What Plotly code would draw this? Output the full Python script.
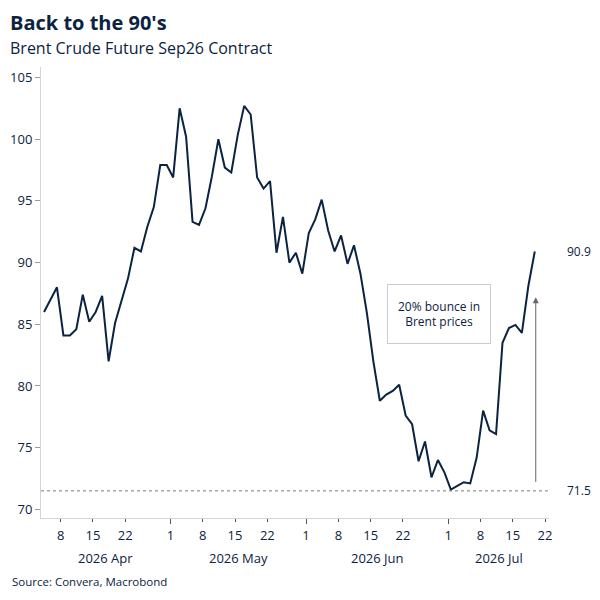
import numpy as np
import pandas as pd
import plotly.graph_objects as go

# business days, Apr 3 -> Jul 20 2026 (weekends dropped, like the source chart)
start_date = "2026-04-03"
end_date = "2026-07-20"
dates = pd.bdate_range(start_date, end_date)

brent = [
    86.0, 87.0, 88.0, 84.1, 84.1, 84.6, 87.4, 85.2, 86.0, 87.3,
    82.0, 85.1, 86.9, 88.7, 91.2, 90.9, 92.9, 94.5, 97.9, 97.9,
    96.9, 102.5, 100.2, 93.3, 93.05, 94.4, 97.0, 100.0, 97.7, 97.3,
    100.35, 102.7, 102.0, 96.9, 96.0, 96.6, 90.8, 93.7, 90.0, 90.8,
    89.1, 92.4, 93.5, 95.1, 92.6, 90.9, 92.2, 89.9, 91.4, 89.1,
    85.9, 82.0, 78.8, 79.3, 79.6, 80.1, 77.6, 76.9, 73.9, 75.5,
    72.6, 74.0, 73.0, 71.6, 71.9, 72.2, 72.1, 74.2, 78.0, 76.4,
    76.1, 83.5, 84.7, 84.95, 84.3, 88.1, 90.9,
]

tick_dates = ["2026-04-08", "2026-04-15", "2026-04-22",
              "2026-05-01", "2026-05-08", "2026-05-15", "2026-05-22",
              "2026-06-01", "2026-06-08", "2026-06-15", "2026-06-22",
              "2026-07-01", "2026-07-08", "2026-07-15", "2026-07-22"]
month_starts = ["2026-05-01", "2026-06-01", "2026-07-01"]
month_labels = ["2026 Apr", "2026 May", "2026 Jun", "2026 Jul"]

low_value = 71.5
last_value = brent[-1]

NAVY = "#0b2340"
FONT = "Open Sans"

s = np.datetime64(start_date)
def bd(d):
    return float(np.busday_count(s, np.datetime64(d)))

x = [bd(d.strftime("%Y-%m-%d")) for d in dates]
TICK_SHIFT = 0.42  # axis ticks sit a little before each day's point
tickvals = [bd(d) - TICK_SHIFT for d in tick_dates]
ticktext = [str(int(d[-2:])) for d in tick_dates]
month_tickvals = [bd(d) - TICK_SHIFT for d in month_starts]

x_range = [-0.47, 78.2]
y_range = [69.3, 105.85]

fig = go.Figure()
fig.add_trace(go.Scatter(x=x, y=brent, mode="lines",
                         line=dict(color=NAVY, width=2), name="Brent",
                         hoverinfo="y"))

# dashed line at the July low
fig.add_shape(type="line", xref="x", yref="y", x0=x_range[0], x1=x_range[1],
              y0=low_value, y1=low_value,
              line=dict(color="#7a7a7a", width=1, dash="3px,3px"))

# month labels centred under each month
edges = [x_range[0]] + month_tickvals + [x_range[1]]
for i, lab in enumerate(month_labels):
    fig.add_annotation(x=(edges[i] + edges[i + 1]) / 2, y=-0.088, xref="x", yref="paper",
                       text=lab, showarrow=False, yanchor="middle",
                       font=dict(size=13, color=NAVY, family=FONT))

# arrow for the bounce
fig.add_annotation(x=76.15, y=87.2, ax=76.15, ay=72.1, xref="x", yref="y",
                   axref="x", ayref="y", text="", showarrow=True,
                   arrowhead=2, arrowsize=1.2, arrowwidth=1, arrowcolor="#666666")

fig.add_annotation(x=61.2, y=85.86, xref="x", yref="y", text="20% bounce in<br>Brent prices",
                   showarrow=False, width=102, height=58, bordercolor="#c5ccd3",
                   borderwidth=1, borderpad=0, bgcolor="white",
                   font=dict(size=12, color=NAVY, family=FONT))

for val in [last_value, low_value]:
    fig.add_annotation(x=1.031, y=val, xref="paper", yref="y", text=f"{val:.1f}",
                       showarrow=False, xanchor="left", yanchor="middle",
                       font=dict(size=12, color=NAVY, family=FONT))

# titles and source
fig.add_annotation(x=-0.064, y=1.098, xref="paper", yref="paper", text="<b>Back to the 90's</b>",
                   showarrow=False, xanchor="left", yanchor="middle",
                   font=dict(size=20, color=NAVY, family=FONT))
fig.add_annotation(x=-0.064, y=1.042, xref="paper", yref="paper",
                   text="Brent Crude Future Sep26 Contract",
                   showarrow=False, xanchor="left", yanchor="middle",
                   font=dict(size=16, color=NAVY, family=FONT))
fig.add_annotation(x=-0.061, y=-0.1397, xref="paper", yref="paper",
                   text="Source: Convera, Macrobond",
                   showarrow=False, xanchor="left", yanchor="middle",
                   font=dict(size=11.5, color=NAVY, family=FONT))

# page body has an 8px margin, so the figure is 592 wide/high and shifted margins
fig.update_layout(
    width=592, height=592,
    margin=dict(l=33, r=51, t=59, b=82),
    paper_bgcolor="white", plot_bgcolor="white",
    showlegend=False,
    font=dict(family=FONT, color=NAVY),
)
fig.update_xaxes(range=x_range, tickmode="array", tickvals=tickvals, ticktext=ticktext,
                 ticks="outside", ticklen=3, tickcolor="#555555", tickwidth=1,
                 ticklabelstandoff=2, automargin=False,
                 showline=True, linecolor="#d4d4d4", linewidth=1,
                 showgrid=False, zeroline=False,
                 tickfont=dict(size=13, color=NAVY, family=FONT),
                 minor=dict(tickmode="array", tickvals=month_tickvals, ticks="outside",
                            ticklen=5, tickcolor="#555555", showgrid=False))
fig.update_yaxes(range=y_range, tickmode="array", tickvals=list(range(70, 106, 5)),
                 ticks="outside", ticklen=5, tickcolor="#999999", automargin=False,
                 showline=True, linecolor="#d4d4d4", linewidth=1,
                 showgrid=False, zeroline=False,
                 tickfont=dict(size=13, color=NAVY, family=FONT))

fig.write_html("out.html")
